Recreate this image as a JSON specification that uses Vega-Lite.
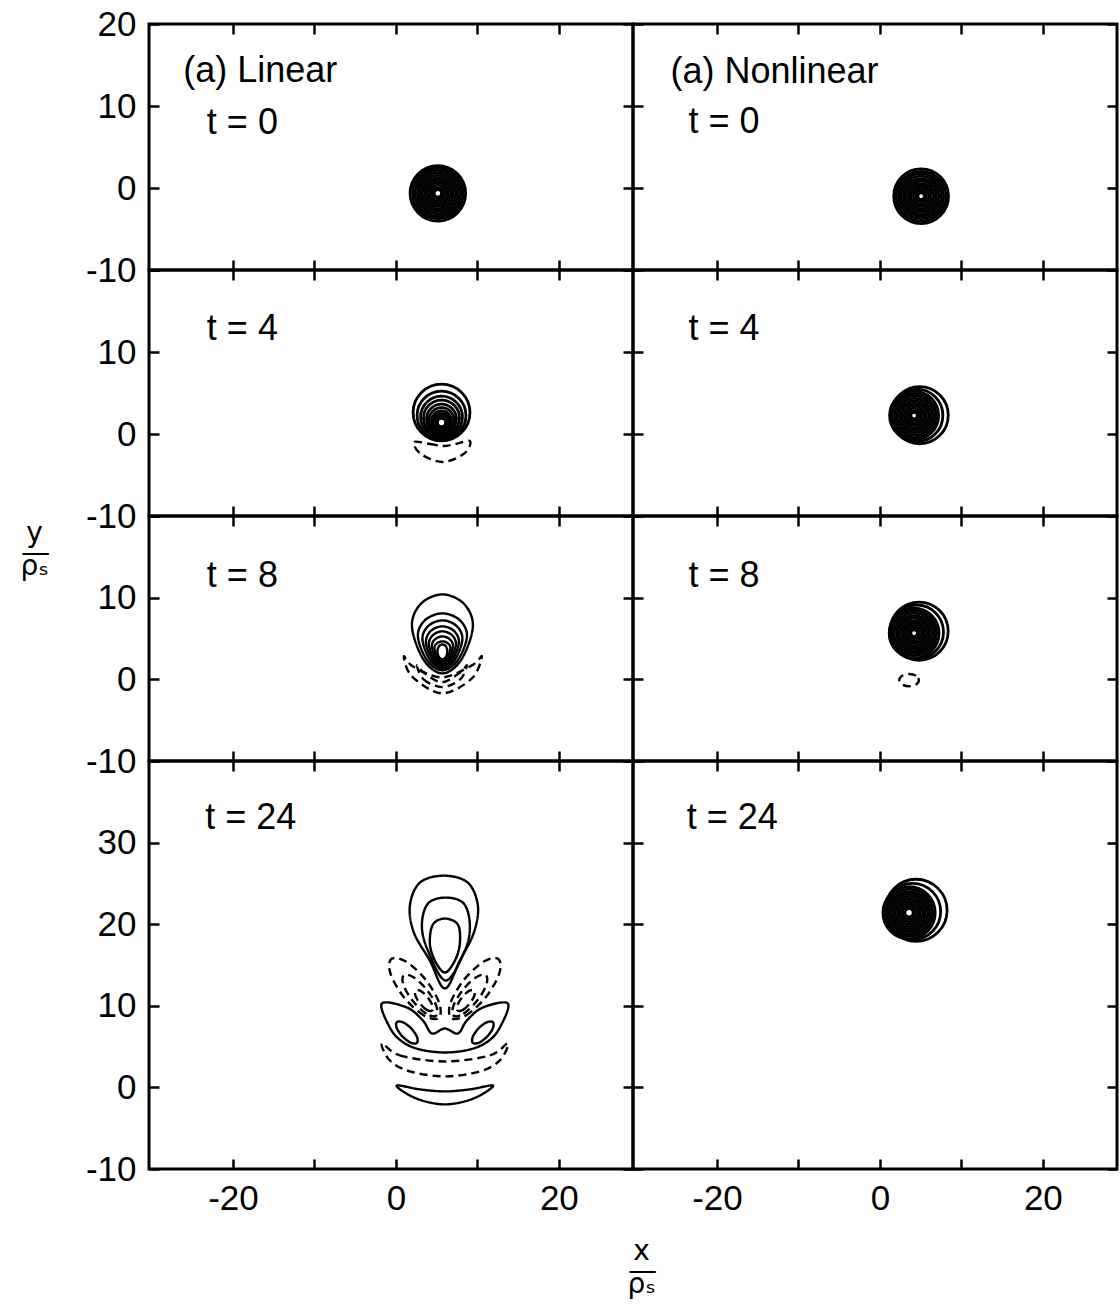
{
"$schema": "https://vega.github.io/schema/vega-lite/v6.json",
"background": "white",
"padding": {"left": 18, "top": 5, "right": 0, "bottom": 0},
"datasets": {
"rings": [
{"p":"L0","x":5.15,"y":-0.65,"r":3.4},{"p":"L0","x":5.15,"y":-0.65,"r":3.1},{"p":"L0","x":5.15,"y":-0.65,"r":2.8},{"p":"L0","x":5.15,"y":-0.65,"r":2.5},{"p":"L0","x":5.15,"y":-0.65,"r":2.2},{"p":"L0","x":5.15,"y":-0.65,"r":1.9},{"p":"L0","x":5.15,"y":-0.65,"r":1.6},{"p":"L0","x":5.15,"y":-0.65,"r":1.3},{"p":"L0","x":5.15,"y":-0.65,"r":1.0},{"p":"L0","x":5.15,"y":-0.65,"r":0.7},{"p":"L0","x":5.15,"y":-0.65,"r":0.45},
{"p":"N0","x":5.06,"y":-1.0,"r":3.35},{"p":"N0","x":5.06,"y":-1.0,"r":3.05},{"p":"N0","x":5.06,"y":-1.0,"r":2.75},{"p":"N0","x":5.06,"y":-1.0,"r":2.45},{"p":"N0","x":5.06,"y":-1.0,"r":2.15},{"p":"N0","x":5.06,"y":-1.0,"r":1.85},{"p":"N0","x":5.06,"y":-1.0,"r":1.55},{"p":"N0","x":5.06,"y":-1.0,"r":1.25},{"p":"N0","x":5.06,"y":-1.0,"r":0.95},{"p":"N0","x":5.06,"y":-1.0,"r":0.65},{"p":"N0","x":5.06,"y":-1.0,"r":0.4},
{"p":"L4","x":5.6,"y":2.62,"r":3.48},{"p":"L4","x":5.6,"y":2.26,"r":2.99},{"p":"L4","x":5.6,"y":2.07,"r":2.56},{"p":"L4","x":5.6,"y":1.95,"r":2.2},{"p":"L4","x":5.6,"y":1.83,"r":1.83},{"p":"L4","x":5.6,"y":1.71,"r":1.52},{"p":"L4","x":5.6,"y":1.59,"r":1.22},{"p":"L4","x":5.6,"y":1.52,"r":0.98},{"p":"L4","x":5.6,"y":1.46,"r":0.73},{"p":"L4","x":5.6,"y":1.4,"r":0.5},
{"p":"N4","x":4.88,"y":2.3,"r":3.5},{"p":"N4","x":4.5,"y":2.27,"r":3.22},{"p":"N4","x":4.2,"y":2.25,"r":3.0},{"p":"N4","x":4.2,"y":2.25,"r":2.7},{"p":"N4","x":4.2,"y":2.25,"r":2.4},{"p":"N4","x":4.2,"y":2.25,"r":2.1},{"p":"N4","x":4.2,"y":2.25,"r":1.8},{"p":"N4","x":4.2,"y":2.25,"r":1.5},{"p":"N4","x":4.2,"y":2.25,"r":1.2},{"p":"N4","x":4.2,"y":2.25,"r":0.9},{"p":"N4","x":4.2,"y":2.25,"r":0.6},{"p":"N4","x":4.2,"y":2.25,"r":0.4},
{"p":"N8","x":4.81,"y":5.9,"r":3.56},{"p":"N8","x":4.5,"y":5.8,"r":3.3},{"p":"N8","x":4.2,"y":5.65,"r":3.05},{"p":"N8","x":4.2,"y":5.65,"r":2.75},{"p":"N8","x":4.2,"y":5.65,"r":2.45},{"p":"N8","x":4.2,"y":5.65,"r":2.15},{"p":"N8","x":4.2,"y":5.65,"r":1.85},{"p":"N8","x":4.2,"y":5.65,"r":1.55},{"p":"N8","x":4.2,"y":5.65,"r":1.25},{"p":"N8","x":4.2,"y":5.65,"r":0.95},{"p":"N8","x":4.2,"y":5.65,"r":0.65},{"p":"N8","x":4.2,"y":5.65,"r":0.4},
{"p":"N24","x":4.44,"y":21.7,"r":3.8},{"p":"N24","x":4.0,"y":21.55,"r":3.45},{"p":"N24","x":3.58,"y":21.4,"r":3.2},{"p":"N24","x":3.58,"y":21.4,"r":2.9},{"p":"N24","x":3.58,"y":21.4,"r":2.6},{"p":"N24","x":3.58,"y":21.4,"r":2.3},{"p":"N24","x":3.58,"y":21.4,"r":2.0},{"p":"N24","x":3.58,"y":21.4,"r":1.7},{"p":"N24","x":3.58,"y":21.4,"r":1.4},{"p":"N24","x":3.58,"y":21.4,"r":1.1},{"p":"N24","x":3.58,"y":21.4,"r":0.8},{"p":"N24","x":3.58,"y":21.4,"r":0.5}
],
"labels": [
{"p":"L0","x":-26.1,"y":14.3,"t":"(a) Linear"},{"p":"L0","x":-23.2,"y":7.9,"t":"t = 0"},
{"p":"N0","x":-25.7,"y":14.2,"t":"(a) Nonlinear"},{"p":"N0","x":-23.5,"y":8.0,"t":"t = 0"},
{"p":"L4","x":-23.2,"y":12.8,"t":"t = 4"},{"p":"N4","x":-23.5,"y":12.8,"t":"t = 4"},
{"p":"L8","x":-23.2,"y":12.6,"t":"t = 8"},{"p":"N8","x":-23.5,"y":12.6,"t":"t = 8"},
{"p":"L24","x":-23.4,"y":33.0,"t":"t = 24"},{"p":"N24","x":-23.7,"y":33.0,"t":"t = 24"}
],
"paths": [
{"p":"L4","c":"d1","o":0,"x":2.21,"y":-0.98,"s":"neg"},{"p":"L4","c":"d1","o":1,"x":4.17,"y":-1.22,"s":"neg"},{"p":"L4","c":"d1","o":2,"x":5.77,"y":-1.46,"s":"neg"},{"p":"L4","c":"d1","o":3,"x":7.36,"y":-1.22,"s":"neg"},{"p":"L4","c":"d1","o":4,"x":9.08,"y":-0.85,"s":"neg"},{"p":"L4","c":"d1","o":5,"x":8.47,"y":-2.32,"s":"neg"},{"p":"L4","c":"d1","o":6,"x":5.77,"y":-3.41,"s":"neg"},{"p":"L4","c":"d1","o":7,"x":3.07,"y":-2.44,"s":"neg"},

{"p":"L8","c":"r1","o":0,"x":5.71,"y":10.40,"s":"pos"},{"p":"L8","c":"r1","o":1,"x":8.35,"y":9.25,"s":"pos"},{"p":"L8","c":"r1","o":2,"x":9.45,"y":6.49,"s":"pos"},{"p":"L8","c":"r1","o":3,"x":8.03,"y":2.42,"s":"pos"},{"p":"L8","c":"r1","o":4,"x":5.71,"y":0.73,"s":"pos"},{"p":"L8","c":"r1","o":5,"x":3.39,"y":2.42,"s":"pos"},{"p":"L8","c":"r1","o":6,"x":1.97,"y":6.49,"s":"pos"},{"p":"L8","c":"r1","o":7,"x":3.07,"y":9.25,"s":"pos"},
{"p":"L8","c":"r2","o":0,"x":5.71,"y":8.08,"s":"pos"},{"p":"L8","c":"r2","o":1,"x":7.84,"y":7.25,"s":"pos"},{"p":"L8","c":"r2","o":2,"x":8.72,"y":5.26,"s":"pos"},{"p":"L8","c":"r2","o":3,"x":7.58,"y":2.32,"s":"pos"},{"p":"L8","c":"r2","o":4,"x":5.71,"y":1.10,"s":"pos"},{"p":"L8","c":"r2","o":5,"x":3.84,"y":2.32,"s":"pos"},{"p":"L8","c":"r2","o":6,"x":2.70,"y":5.26,"s":"pos"},{"p":"L8","c":"r2","o":7,"x":3.58,"y":7.25,"s":"pos"},
{"p":"L8","c":"r3","o":0,"x":5.71,"y":7.22,"s":"pos"},{"p":"L8","c":"r3","o":1,"x":7.44,"y":6.54,"s":"pos"},{"p":"L8","c":"r3","o":2,"x":8.16,"y":4.90,"s":"pos"},{"p":"L8","c":"r3","o":3,"x":7.23,"y":2.39,"s":"pos"},{"p":"L8","c":"r3","o":4,"x":5.71,"y":1.35,"s":"pos"},{"p":"L8","c":"r3","o":5,"x":4.19,"y":2.39,"s":"pos"},{"p":"L8","c":"r3","o":6,"x":3.26,"y":4.90,"s":"pos"},{"p":"L8","c":"r3","o":7,"x":3.98,"y":6.54,"s":"pos"},
{"p":"L8","c":"r4","o":0,"x":5.71,"y":6.49,"s":"pos"},{"p":"L8","c":"r4","o":1,"x":7.14,"y":5.92,"s":"pos"},{"p":"L8","c":"r4","o":2,"x":7.73,"y":4.53,"s":"pos"},{"p":"L8","c":"r4","o":3,"x":6.96,"y":2.45,"s":"pos"},{"p":"L8","c":"r4","o":4,"x":5.71,"y":1.59,"s":"pos"},{"p":"L8","c":"r4","o":5,"x":4.46,"y":2.45,"s":"pos"},{"p":"L8","c":"r4","o":6,"x":3.69,"y":4.53,"s":"pos"},{"p":"L8","c":"r4","o":7,"x":4.28,"y":5.92,"s":"pos"},
{"p":"L8","c":"r5","o":0,"x":5.71,"y":5.88,"s":"pos"},{"p":"L8","c":"r5","o":1,"x":6.88,"y":5.41,"s":"pos"},{"p":"L8","c":"r5","o":2,"x":7.37,"y":4.28,"s":"pos"},{"p":"L8","c":"r5","o":3,"x":6.74,"y":2.55,"s":"pos"},{"p":"L8","c":"r5","o":4,"x":5.71,"y":1.84,"s":"pos"},{"p":"L8","c":"r5","o":5,"x":4.68,"y":2.55,"s":"pos"},{"p":"L8","c":"r5","o":6,"x":4.05,"y":4.28,"s":"pos"},{"p":"L8","c":"r5","o":7,"x":4.54,"y":5.41,"s":"pos"},
{"p":"L8","c":"r6","o":0,"x":5.71,"y":5.26,"s":"pos"},{"p":"L8","c":"r6","o":1,"x":6.62,"y":4.90,"s":"pos"},{"p":"L8","c":"r6","o":2,"x":7.00,"y":4.04,"s":"pos"},{"p":"L8","c":"r6","o":3,"x":6.51,"y":2.57,"s":"pos"},{"p":"L8","c":"r6","o":4,"x":5.71,"y":1.96,"s":"pos"},{"p":"L8","c":"r6","o":5,"x":4.91,"y":2.57,"s":"pos"},{"p":"L8","c":"r6","o":6,"x":4.42,"y":4.04,"s":"pos"},{"p":"L8","c":"r6","o":7,"x":4.80,"y":4.90,"s":"pos"},
{"p":"L8","c":"r7","o":0,"x":5.71,"y":4.65,"s":"pos"},{"p":"L8","c":"r7","o":1,"x":6.40,"y":4.40,"s":"pos"},{"p":"L8","c":"r7","o":2,"x":6.69,"y":3.79,"s":"pos"},{"p":"L8","c":"r7","o":3,"x":6.32,"y":2.67,"s":"pos"},{"p":"L8","c":"r7","o":4,"x":5.71,"y":2.20,"s":"pos"},{"p":"L8","c":"r7","o":5,"x":5.10,"y":2.67,"s":"pos"},{"p":"L8","c":"r7","o":6,"x":4.73,"y":3.79,"s":"pos"},{"p":"L8","c":"r7","o":7,"x":5.02,"y":4.40,"s":"pos"},
{"p":"L8","c":"r8","o":0,"x":5.71,"y":4.28,"s":"pos"},{"p":"L8","c":"r8","o":1,"x":6.14,"y":4.03,"s":"pos"},{"p":"L8","c":"r8","o":2,"x":6.32,"y":3.43,"s":"pos"},{"p":"L8","c":"r8","o":3,"x":6.14,"y":2.74,"s":"pos"},{"p":"L8","c":"r8","o":4,"x":5.71,"y":2.45,"s":"pos"},{"p":"L8","c":"r8","o":5,"x":5.28,"y":2.74,"s":"pos"},{"p":"L8","c":"r8","o":6,"x":5.10,"y":3.43,"s":"pos"},{"p":"L8","c":"r8","o":7,"x":5.28,"y":4.03,"s":"pos"},
{"p":"L8","c":"d1","o":0,"x":0.98,"y":2.82,"s":"neg"},{"p":"L8","c":"d1","o":1,"x":1.96,"y":0.37,"s":"neg"},{"p":"L8","c":"d1","o":2,"x":5.64,"y":-1.71,"s":"neg"},{"p":"L8","c":"d1","o":3,"x":9.33,"y":0.12,"s":"neg"},{"p":"L8","c":"d1","o":4,"x":10.55,"y":2.82,"s":"neg"},{"p":"L8","c":"d1","o":5,"x":9.33,"y":1.71,"s":"neg"},{"p":"L8","c":"d1","o":6,"x":5.64,"y":0.24,"s":"neg"},{"p":"L8","c":"d1","o":7,"x":2.09,"y":1.59,"s":"neg"},
{"p":"L8","c":"d2","o":0,"x":2.6,"y":1.7,"s":"neg"},{"p":"L8","c":"d2","o":1,"x":3.4,"y":0.0,"s":"neg"},{"p":"L8","c":"d2","o":2,"x":5.64,"y":-0.95,"s":"neg"},{"p":"L8","c":"d2","o":3,"x":7.9,"y":0.0,"s":"neg"},{"p":"L8","c":"d2","o":4,"x":8.7,"y":1.7,"s":"neg"},{"p":"L8","c":"d2","o":5,"x":7.9,"y":0.85,"s":"neg"},{"p":"L8","c":"d2","o":6,"x":5.64,"y":-0.35,"s":"neg"},{"p":"L8","c":"d2","o":7,"x":3.4,"y":0.85,"s":"neg"},

{"p":"N8","c":"d1","o":0,"x":4.78,"y":-0.1,"s":"neg"},{"p":"N8","c":"d1","o":1,"x":4.43,"y":0.43,"s":"neg"},{"p":"N8","c":"d1","o":2,"x":3.58,"y":0.65,"s":"neg"},{"p":"N8","c":"d1","o":3,"x":2.73,"y":0.43,"s":"neg"},{"p":"N8","c":"d1","o":4,"x":2.38,"y":-0.1,"s":"neg"},{"p":"N8","c":"d1","o":5,"x":2.73,"y":-0.63,"s":"neg"},{"p":"N8","c":"d1","o":6,"x":3.58,"y":-0.85,"s":"neg"},{"p":"N8","c":"d1","o":7,"x":4.43,"y":-0.63,"s":"neg"},

{"p":"L24","c":"t1","o":0,"x":5.89,"y":25.95,"s":"pos"},{"p":"L24","c":"t1","o":1,"x":8.83,"y":25.09,"s":"pos"},{"p":"L24","c":"t1","o":2,"x":10.06,"y":22.28,"s":"pos"},{"p":"L24","c":"t1","o":3,"x":9.57,"y":18.97,"s":"pos"},{"p":"L24","c":"t1","o":4,"x":7.85,"y":15.54,"s":"pos"},{"p":"L24","c":"t1","o":5,"x":6.01,"y":12.12,"s":"pos"},{"p":"L24","c":"t1","o":6,"x":4.17,"y":15.54,"s":"pos"},{"p":"L24","c":"t1","o":7,"x":2.21,"y":18.97,"s":"pos"},{"p":"L24","c":"t1","o":8,"x":1.72,"y":22.28,"s":"pos"},{"p":"L24","c":"t1","o":9,"x":2.94,"y":25.09,"s":"pos"},
{"p":"L24","c":"t2","o":0,"x":6.13,"y":23.26,"s":"pos"},{"p":"L24","c":"t2","o":1,"x":8.34,"y":22.52,"s":"pos"},{"p":"L24","c":"t2","o":2,"x":9.08,"y":19.83,"s":"pos"},{"p":"L24","c":"t2","o":3,"x":8.47,"y":16.77,"s":"pos"},{"p":"L24","c":"t2","o":4,"x":6.13,"y":13.10,"s":"pos"},{"p":"L24","c":"t2","o":5,"x":3.93,"y":16.77,"s":"pos"},{"p":"L24","c":"t2","o":6,"x":3.19,"y":19.83,"s":"pos"},{"p":"L24","c":"t2","o":7,"x":3.93,"y":22.52,"s":"pos"},
{"p":"L24","c":"t3","o":0,"x":6.01,"y":20.69,"s":"pos"},{"p":"L24","c":"t3","o":1,"x":7.61,"y":19.95,"s":"pos"},{"p":"L24","c":"t3","o":2,"x":7.85,"y":17.63,"s":"pos"},{"p":"L24","c":"t3","o":3,"x":7.24,"y":15.54,"s":"pos"},{"p":"L24","c":"t3","o":4,"x":6.01,"y":14.08,"s":"pos"},{"p":"L24","c":"t3","o":5,"x":4.79,"y":15.54,"s":"pos"},{"p":"L24","c":"t3","o":6,"x":4.17,"y":17.63,"s":"pos"},{"p":"L24","c":"t3","o":7,"x":4.54,"y":19.95,"s":"pos"},
{"p":"L24","c":"lo1","o":0,"x":5.23,"y":8.49,"s":"neg"},{"p":"L24","c":"lo1","o":1,"x":3.44,"y":8.81,"s":"neg"},{"p":"L24","c":"lo1","o":2,"x":0.99,"y":11.05,"s":"neg"},{"p":"L24","c":"lo1","o":3,"x":-0.66,"y":13.93,"s":"neg"},{"p":"L24","c":"lo1","o":4,"x":-0.56,"y":15.74,"s":"neg"},{"p":"L24","c":"lo1","o":5,"x":1.23,"y":15.42,"s":"neg"},{"p":"L24","c":"lo1","o":6,"x":3.67,"y":13.18,"s":"neg"},{"p":"L24","c":"lo1","o":7,"x":5.33,"y":10.31,"s":"neg"},
{"p":"L24","c":"lo2","o":0,"x":4.92,"y":8.78,"s":"neg"},{"p":"L24","c":"lo2","o":1,"x":3.74,"y":9.02,"s":"neg"},{"p":"L24","c":"lo2","o":2,"x":2.09,"y":10.58,"s":"neg"},{"p":"L24","c":"lo2","o":3,"x":0.94,"y":12.52,"s":"neg"},{"p":"L24","c":"lo2","o":4,"x":0.97,"y":13.75,"s":"neg"},{"p":"L24","c":"lo2","o":5,"x":2.16,"y":13.5,"s":"neg"},{"p":"L24","c":"lo2","o":6,"x":3.80,"y":11.95,"s":"neg"},{"p":"L24","c":"lo2","o":7,"x":4.96,"y":10.0,"s":"neg"},
{"p":"L24","c":"lo3","o":0,"x":4.43,"y":9.41,"s":"neg"},{"p":"L24","c":"lo3","o":1,"x":3.79,"y":9.50,"s":"neg"},{"p":"L24","c":"lo3","o":2,"x":2.96,"y":10.27,"s":"neg"},{"p":"L24","c":"lo3","o":3,"x":2.39,"y":11.26,"s":"neg"},{"p":"L24","c":"lo3","o":4,"x":2.44,"y":11.89,"s":"neg"},{"p":"L24","c":"lo3","o":5,"x":3.08,"y":11.80,"s":"neg"},{"p":"L24","c":"lo3","o":6,"x":3.91,"y":11.03,"s":"neg"},{"p":"L24","c":"lo3","o":7,"x":4.48,"y":10.04,"s":"neg"},
{"p":"L24","c":"ro1","o":0,"x":6.79,"y":8.49,"s":"neg"},{"p":"L24","c":"ro1","o":1,"x":8.58,"y":8.81,"s":"neg"},{"p":"L24","c":"ro1","o":2,"x":11.03,"y":11.05,"s":"neg"},{"p":"L24","c":"ro1","o":3,"x":12.68,"y":13.93,"s":"neg"},{"p":"L24","c":"ro1","o":4,"x":12.58,"y":15.74,"s":"neg"},{"p":"L24","c":"ro1","o":5,"x":10.79,"y":15.42,"s":"neg"},{"p":"L24","c":"ro1","o":6,"x":8.35,"y":13.18,"s":"neg"},{"p":"L24","c":"ro1","o":7,"x":6.69,"y":10.31,"s":"neg"},
{"p":"L24","c":"ro2","o":0,"x":7.10,"y":8.78,"s":"neg"},{"p":"L24","c":"ro2","o":1,"x":8.28,"y":9.02,"s":"neg"},{"p":"L24","c":"ro2","o":2,"x":9.93,"y":10.58,"s":"neg"},{"p":"L24","c":"ro2","o":3,"x":11.08,"y":12.52,"s":"neg"},{"p":"L24","c":"ro2","o":4,"x":11.05,"y":13.75,"s":"neg"},{"p":"L24","c":"ro2","o":5,"x":9.86,"y":13.5,"s":"neg"},{"p":"L24","c":"ro2","o":6,"x":8.22,"y":11.95,"s":"neg"},{"p":"L24","c":"ro2","o":7,"x":7.06,"y":10.0,"s":"neg"},
{"p":"L24","c":"ro3","o":0,"x":7.59,"y":9.41,"s":"neg"},{"p":"L24","c":"ro3","o":1,"x":8.23,"y":9.50,"s":"neg"},{"p":"L24","c":"ro3","o":2,"x":9.06,"y":10.27,"s":"neg"},{"p":"L24","c":"ro3","o":3,"x":9.63,"y":11.26,"s":"neg"},{"p":"L24","c":"ro3","o":4,"x":9.58,"y":11.89,"s":"neg"},{"p":"L24","c":"ro3","o":5,"x":8.94,"y":11.80,"s":"neg"},{"p":"L24","c":"ro3","o":6,"x":8.11,"y":11.03,"s":"neg"},{"p":"L24","c":"ro3","o":7,"x":7.54,"y":10.04,"s":"neg"},
{"p":"L24","c":"w","o":0,"x":-1.72,"y":10.28,"s":"pos"},{"p":"L24","c":"w","o":1,"x":1.35,"y":9.79,"s":"pos"},{"p":"L24","c":"w","o":2,"x":3.31,"y":8.20,"s":"pos"},{"p":"L24","c":"w","o":3,"x":4.42,"y":6.61,"s":"pos"},{"p":"L24","c":"w","o":4,"x":6.01,"y":7.22,"s":"pos"},{"p":"L24","c":"w","o":5,"x":7.61,"y":6.61,"s":"pos"},{"p":"L24","c":"w","o":6,"x":8.71,"y":8.20,"s":"pos"},{"p":"L24","c":"w","o":7,"x":10.67,"y":9.79,"s":"pos"},{"p":"L24","c":"w","o":8,"x":13.74,"y":10.28,"s":"pos"},{"p":"L24","c":"w","o":9,"x":12.76,"y":7.34,"s":"pos"},{"p":"L24","c":"w","o":10,"x":11.29,"y":5.63,"s":"pos"},{"p":"L24","c":"w","o":11,"x":9.08,"y":4.65,"s":"pos"},{"p":"L24","c":"w","o":12,"x":6.01,"y":4.28,"s":"pos"},{"p":"L24","c":"w","o":13,"x":2.94,"y":4.65,"s":"pos"},{"p":"L24","c":"w","o":14,"x":0.74,"y":5.63,"s":"pos"},{"p":"L24","c":"w","o":15,"x":-0.74,"y":7.34,"s":"pos"},
{"p":"L24","c":"wl","o":0,"x":2.58,"y":5.46,"s":"pos"},{"p":"L24","c":"wl","o":1,"x":1.84,"y":5.47,"s":"pos"},{"p":"L24","c":"wl","o":2,"x":0.82,"y":6.23,"s":"pos"},{"p":"L24","c":"wl","o":3,"x":0.11,"y":7.27,"s":"pos"},{"p":"L24","c":"wl","o":4,"x":0.12,"y":8.00,"s":"pos"},{"p":"L24","c":"wl","o":5,"x":0.86,"y":7.98,"s":"pos"},{"p":"L24","c":"wl","o":6,"x":1.88,"y":7.23,"s":"pos"},{"p":"L24","c":"wl","o":7,"x":2.59,"y":6.18,"s":"pos"},
{"p":"L24","c":"wr","o":0,"x":9.44,"y":5.46,"s":"pos"},{"p":"L24","c":"wr","o":1,"x":10.18,"y":5.47,"s":"pos"},{"p":"L24","c":"wr","o":2,"x":11.20,"y":6.23,"s":"pos"},{"p":"L24","c":"wr","o":3,"x":11.91,"y":7.27,"s":"pos"},{"p":"L24","c":"wr","o":4,"x":11.90,"y":8.00,"s":"pos"},{"p":"L24","c":"wr","o":5,"x":11.16,"y":7.98,"s":"pos"},{"p":"L24","c":"wr","o":6,"x":10.14,"y":7.23,"s":"pos"},{"p":"L24","c":"wr","o":7,"x":9.43,"y":6.18,"s":"pos"},
{"p":"L24","c":"dc","o":0,"x":-1.72,"y":5.39,"s":"neg"},{"p":"L24","c":"dc","o":1,"x":0.49,"y":3.92,"s":"neg"},{"p":"L24","c":"dc","o":2,"x":6.01,"y":3.18,"s":"neg"},{"p":"L24","c":"dc","o":3,"x":11.53,"y":3.92,"s":"neg"},{"p":"L24","c":"dc","o":4,"x":13.74,"y":5.39,"s":"neg"},{"p":"L24","c":"dc","o":5,"x":12.76,"y":3.30,"s":"neg"},{"p":"L24","c":"dc","o":6,"x":10.31,"y":1.96,"s":"neg"},{"p":"L24","c":"dc","o":7,"x":6.01,"y":1.35,"s":"neg"},{"p":"L24","c":"dc","o":8,"x":1.72,"y":1.96,"s":"neg"},{"p":"L24","c":"dc","o":9,"x":-0.74,"y":3.30,"s":"neg"},
{"p":"L24","c":"bc","o":0,"x":0.12,"y":0.24,"s":"pos"},{"p":"L24","c":"bc","o":1,"x":2.94,"y":-0.24,"s":"pos"},{"p":"L24","c":"bc","o":2,"x":6.01,"y":-0.49,"s":"pos"},{"p":"L24","c":"bc","o":3,"x":9.08,"y":-0.24,"s":"pos"},{"p":"L24","c":"bc","o":4,"x":11.90,"y":0.24,"s":"pos"},{"p":"L24","c":"bc","o":5,"x":10.55,"y":-0.86,"s":"pos"},{"p":"L24","c":"bc","o":6,"x":8.47,"y":-1.71,"s":"pos"},{"p":"L24","c":"bc","o":7,"x":6.01,"y":-2.08,"s":"pos"},{"p":"L24","c":"bc","o":8,"x":3.56,"y":-1.71,"s":"pos"},{"p":"L24","c":"bc","o":9,"x":1.47,"y":-0.86,"s":"pos"}
]
},
"columns": 2,
"spacing": 0,
"bounds": "flush",
"concat": [
{"width": 484, "height": 246, "layer": [
 {"data": {"name": "paths"}, "transform": [{"filter": "datum.p == 'L0'"}], "mark": {"type": "line", "interpolate": "cardinal-closed", "color": "black", "strokeWidth": 2.4},
  "encoding": {"x": {"field": "x", "type": "quantitative", "scale": {"domain": [-30.3, 29.1], "nice": false, "zero": false}, "axis": {"orient": "bottom", "values": [-20,-10,0,10,20], "labels": false, "title": null}},
   "y": {"field": "y", "type": "quantitative", "scale": {"domain": [-10, 20], "nice": false, "zero": false}, "axis": {"orient": "left", "values": [-10,0,10,20], "labelExpr": "''+datum.value", "title": null}},
   "detail": {"field": "c", "type": "nominal"}, "order": {"field": "o", "type": "quantitative"},
   "strokeDash": {"field": "s", "type": "nominal", "scale": {"domain": ["pos","neg"], "range": [[1,0],[8,5]]}, "legend": null}}},
 {"data": {"name": "rings"}, "transform": [{"filter": "datum.p == 'L0'"}], "mark": {"type": "point", "shape": "circle", "filled": false, "color": "black", "opacity": 1, "strokeWidth": 2.8},
  "encoding": {"x": {"field": "x", "type": "quantitative", "scale": {"domain": [-30.3, 29.1], "nice": false, "zero": false}, "axis": {"orient": "top", "values": [-20,-10,0,10,20], "labels": false, "title": null}},
   "y": {"field": "y", "type": "quantitative", "scale": {"domain": [-10, 20], "nice": false, "zero": false}, "axis": {"orient": "right", "values": [-10,0,10,20], "labels": false, "title": null}},
   "size": {"field": "r", "type": "quantitative", "scale": {"type": "pow", "exponent": 2, "domain": [0, 10], "range": [0, 26700]}, "legend": null}}},
 {"data": {"name": "labels"}, "transform": [{"filter": "datum.p == 'L0'"}], "mark": {"type": "text", "align": "left", "baseline": "middle", "fontSize": 36, "font": "Liberation Sans", "color": "black"},
  "encoding": {"x": {"field": "x", "type": "quantitative", "scale": {"domain": [-30.3, 29.1], "nice": false, "zero": false}, "axis": null},
   "y": {"field": "y", "type": "quantitative", "scale": {"domain": [-10, 20], "nice": false, "zero": false}, "axis": null}, "text": {"field": "t", "type": "nominal"}}}
], "resolve": {"axis": {"x": "independent", "y": "independent"}}},

{"width": 484, "height": 246, "layer": [
 {"data": {"name": "paths"}, "transform": [{"filter": "datum.p == 'N0'"}], "mark": {"type": "line", "interpolate": "cardinal-closed", "color": "black", "strokeWidth": 2.4},
  "encoding": {"x": {"field": "x", "type": "quantitative", "scale": {"domain": [-30.3, 29.1], "nice": false, "zero": false}, "axis": {"orient": "bottom", "values": [-20,-10,0,10,20], "labels": false, "title": null}},
   "y": {"field": "y", "type": "quantitative", "scale": {"domain": [-10, 20], "nice": false, "zero": false}, "axis": {"orient": "left", "values": [-10,0,10,20], "labels": false, "title": null}},
   "detail": {"field": "c", "type": "nominal"}, "order": {"field": "o", "type": "quantitative"},
   "strokeDash": {"field": "s", "type": "nominal", "scale": {"domain": ["pos","neg"], "range": [[1,0],[8,5]]}, "legend": null}}},
 {"data": {"name": "rings"}, "transform": [{"filter": "datum.p == 'N0'"}], "mark": {"type": "point", "shape": "circle", "filled": false, "color": "black", "opacity": 1, "strokeWidth": 2.8},
  "encoding": {"x": {"field": "x", "type": "quantitative", "scale": {"domain": [-30.3, 29.1], "nice": false, "zero": false}, "axis": {"orient": "top", "values": [-20,-10,0,10,20], "labels": false, "title": null}},
   "y": {"field": "y", "type": "quantitative", "scale": {"domain": [-10, 20], "nice": false, "zero": false}, "axis": {"orient": "right", "values": [-10,0,10,20], "labels": false, "title": null}},
   "size": {"field": "r", "type": "quantitative", "scale": {"type": "pow", "exponent": 2, "domain": [0, 10], "range": [0, 26700]}, "legend": null}}},
 {"data": {"name": "labels"}, "transform": [{"filter": "datum.p == 'N0'"}], "mark": {"type": "text", "align": "left", "baseline": "middle", "fontSize": 36, "font": "Liberation Sans", "color": "black"},
  "encoding": {"x": {"field": "x", "type": "quantitative", "scale": {"domain": [-30.3, 29.1], "nice": false, "zero": false}, "axis": null},
   "y": {"field": "y", "type": "quantitative", "scale": {"domain": [-10, 20], "nice": false, "zero": false}, "axis": null}, "text": {"field": "t", "type": "nominal"}}}
], "resolve": {"axis": {"x": "independent", "y": "independent"}}},

{"width": 484, "height": 246, "layer": [
 {"data": {"name": "paths"}, "transform": [{"filter": "datum.p == 'L4'"}], "mark": {"type": "line", "interpolate": "cardinal-closed", "color": "black", "strokeWidth": 2.4},
  "encoding": {"x": {"field": "x", "type": "quantitative", "scale": {"domain": [-30.3, 29.1], "nice": false, "zero": false}, "axis": {"orient": "bottom", "values": [-20,-10,0,10,20], "labels": false, "title": null}},
   "y": {"field": "y", "type": "quantitative", "scale": {"domain": [-10, 20], "nice": false, "zero": false}, "axis": {"orient": "left", "values": [-10,0,10,20], "labelExpr": "datum.value == 20 ? '' : ''+datum.value", "title": null}},
   "detail": {"field": "c", "type": "nominal"}, "order": {"field": "o", "type": "quantitative"},
   "strokeDash": {"field": "s", "type": "nominal", "scale": {"domain": ["pos","neg"], "range": [[1,0],[8,5]]}, "legend": null}}},
 {"data": {"name": "rings"}, "transform": [{"filter": "datum.p == 'L4'"}], "mark": {"type": "point", "shape": "circle", "filled": false, "color": "black", "opacity": 1, "strokeWidth": 2.8},
  "encoding": {"x": {"field": "x", "type": "quantitative", "scale": {"domain": [-30.3, 29.1], "nice": false, "zero": false}, "axis": {"orient": "top", "values": [-20,-10,0,10,20], "labels": false, "title": null}},
   "y": {"field": "y", "type": "quantitative", "scale": {"domain": [-10, 20], "nice": false, "zero": false}, "axis": {"orient": "right", "values": [-10,0,10,20], "labels": false, "title": null}},
   "size": {"field": "r", "type": "quantitative", "scale": {"type": "pow", "exponent": 2, "domain": [0, 10], "range": [0, 26700]}, "legend": null}}},
 {"data": {"name": "labels"}, "transform": [{"filter": "datum.p == 'L4'"}], "mark": {"type": "text", "align": "left", "baseline": "middle", "fontSize": 36, "font": "Liberation Sans", "color": "black"},
  "encoding": {"x": {"field": "x", "type": "quantitative", "scale": {"domain": [-30.3, 29.1], "nice": false, "zero": false}, "axis": null},
   "y": {"field": "y", "type": "quantitative", "scale": {"domain": [-10, 20], "nice": false, "zero": false}, "axis": null}, "text": {"field": "t", "type": "nominal"}}}
], "resolve": {"axis": {"x": "independent", "y": "independent"}}},

{"width": 484, "height": 246, "layer": [
 {"data": {"name": "paths"}, "transform": [{"filter": "datum.p == 'N4'"}], "mark": {"type": "line", "interpolate": "cardinal-closed", "color": "black", "strokeWidth": 2.4},
  "encoding": {"x": {"field": "x", "type": "quantitative", "scale": {"domain": [-30.3, 29.1], "nice": false, "zero": false}, "axis": {"orient": "bottom", "values": [-20,-10,0,10,20], "labels": false, "title": null}},
   "y": {"field": "y", "type": "quantitative", "scale": {"domain": [-10, 20], "nice": false, "zero": false}, "axis": {"orient": "left", "values": [-10,0,10,20], "labels": false, "title": null}},
   "detail": {"field": "c", "type": "nominal"}, "order": {"field": "o", "type": "quantitative"},
   "strokeDash": {"field": "s", "type": "nominal", "scale": {"domain": ["pos","neg"], "range": [[1,0],[8,5]]}, "legend": null}}},
 {"data": {"name": "rings"}, "transform": [{"filter": "datum.p == 'N4'"}], "mark": {"type": "point", "shape": "circle", "filled": false, "color": "black", "opacity": 1, "strokeWidth": 2.8},
  "encoding": {"x": {"field": "x", "type": "quantitative", "scale": {"domain": [-30.3, 29.1], "nice": false, "zero": false}, "axis": {"orient": "top", "values": [-20,-10,0,10,20], "labels": false, "title": null}},
   "y": {"field": "y", "type": "quantitative", "scale": {"domain": [-10, 20], "nice": false, "zero": false}, "axis": {"orient": "right", "values": [-10,0,10,20], "labels": false, "title": null}},
   "size": {"field": "r", "type": "quantitative", "scale": {"type": "pow", "exponent": 2, "domain": [0, 10], "range": [0, 26700]}, "legend": null}}},
 {"data": {"name": "labels"}, "transform": [{"filter": "datum.p == 'N4'"}], "mark": {"type": "text", "align": "left", "baseline": "middle", "fontSize": 36, "font": "Liberation Sans", "color": "black"},
  "encoding": {"x": {"field": "x", "type": "quantitative", "scale": {"domain": [-30.3, 29.1], "nice": false, "zero": false}, "axis": null},
   "y": {"field": "y", "type": "quantitative", "scale": {"domain": [-10, 20], "nice": false, "zero": false}, "axis": null}, "text": {"field": "t", "type": "nominal"}}}
], "resolve": {"axis": {"x": "independent", "y": "independent"}}},

{"width": 484, "height": 245, "layer": [
 {"data": {"name": "paths"}, "transform": [{"filter": "datum.p == 'L8'"}], "mark": {"type": "line", "interpolate": "cardinal-closed", "color": "black", "strokeWidth": 2.4},
  "encoding": {"x": {"field": "x", "type": "quantitative", "scale": {"domain": [-30.3, 29.1], "nice": false, "zero": false}, "axis": {"orient": "bottom", "values": [-20,-10,0,10,20], "labels": false, "title": null}},
   "y": {"field": "y", "type": "quantitative", "scale": {"domain": [-10, 20], "nice": false, "zero": false}, "axis": {"orient": "left", "values": [-10,0,10,20], "labelExpr": "datum.value == 20 ? '' : ''+datum.value", "title": ["y", "ρ\u0305ₛ\u0305"], "titleFont": "DejaVu Sans", "titleAngle": 0, "titleAlign": "center", "titleBaseline": "top", "titleX": -115, "titleY": 3, "titleFontSize": 28, "titleLineHeight": 33}},
   "detail": {"field": "c", "type": "nominal"}, "order": {"field": "o", "type": "quantitative"},
   "strokeDash": {"field": "s", "type": "nominal", "scale": {"domain": ["pos","neg"], "range": [[1,0],[8,5]]}, "legend": null}}},
 {"data": {"name": "rings"}, "transform": [{"filter": "datum.p == 'L8'"}], "mark": {"type": "point", "shape": "circle", "filled": false, "color": "black", "opacity": 1, "strokeWidth": 2.8},
  "encoding": {"x": {"field": "x", "type": "quantitative", "scale": {"domain": [-30.3, 29.1], "nice": false, "zero": false}, "axis": {"orient": "top", "values": [-20,-10,0,10,20], "labels": false, "title": null}},
   "y": {"field": "y", "type": "quantitative", "scale": {"domain": [-10, 20], "nice": false, "zero": false}, "axis": {"orient": "right", "values": [-10,0,10,20], "labels": false, "title": null}},
   "size": {"field": "r", "type": "quantitative", "scale": {"type": "pow", "exponent": 2, "domain": [0, 10], "range": [0, 26700]}, "legend": null}}},
 {"data": {"name": "labels"}, "transform": [{"filter": "datum.p == 'L8'"}], "mark": {"type": "text", "align": "left", "baseline": "middle", "fontSize": 36, "font": "Liberation Sans", "color": "black"},
  "encoding": {"x": {"field": "x", "type": "quantitative", "scale": {"domain": [-30.3, 29.1], "nice": false, "zero": false}, "axis": null},
   "y": {"field": "y", "type": "quantitative", "scale": {"domain": [-10, 20], "nice": false, "zero": false}, "axis": null}, "text": {"field": "t", "type": "nominal"}}}
], "resolve": {"axis": {"x": "independent", "y": "independent"}}},

{"width": 484, "height": 245, "layer": [
 {"data": {"name": "paths"}, "transform": [{"filter": "datum.p == 'N8'"}], "mark": {"type": "line", "interpolate": "cardinal-closed", "color": "black", "strokeWidth": 2.4},
  "encoding": {"x": {"field": "x", "type": "quantitative", "scale": {"domain": [-30.3, 29.1], "nice": false, "zero": false}, "axis": {"orient": "bottom", "values": [-20,-10,0,10,20], "labels": false, "title": null}},
   "y": {"field": "y", "type": "quantitative", "scale": {"domain": [-10, 20], "nice": false, "zero": false}, "axis": {"orient": "left", "values": [-10,0,10,20], "labels": false, "title": null}},
   "detail": {"field": "c", "type": "nominal"}, "order": {"field": "o", "type": "quantitative"},
   "strokeDash": {"field": "s", "type": "nominal", "scale": {"domain": ["pos","neg"], "range": [[1,0],[8,5]]}, "legend": null}}},
 {"data": {"name": "rings"}, "transform": [{"filter": "datum.p == 'N8'"}], "mark": {"type": "point", "shape": "circle", "filled": false, "color": "black", "opacity": 1, "strokeWidth": 2.8},
  "encoding": {"x": {"field": "x", "type": "quantitative", "scale": {"domain": [-30.3, 29.1], "nice": false, "zero": false}, "axis": {"orient": "top", "values": [-20,-10,0,10,20], "labels": false, "title": null}},
   "y": {"field": "y", "type": "quantitative", "scale": {"domain": [-10, 20], "nice": false, "zero": false}, "axis": {"orient": "right", "values": [-10,0,10,20], "labels": false, "title": null}},
   "size": {"field": "r", "type": "quantitative", "scale": {"type": "pow", "exponent": 2, "domain": [0, 10], "range": [0, 26700]}, "legend": null}}},
 {"data": {"name": "labels"}, "transform": [{"filter": "datum.p == 'N8'"}], "mark": {"type": "text", "align": "left", "baseline": "middle", "fontSize": 36, "font": "Liberation Sans", "color": "black"},
  "encoding": {"x": {"field": "x", "type": "quantitative", "scale": {"domain": [-30.3, 29.1], "nice": false, "zero": false}, "axis": null},
   "y": {"field": "y", "type": "quantitative", "scale": {"domain": [-10, 20], "nice": false, "zero": false}, "axis": null}, "text": {"field": "t", "type": "nominal"}}}
], "resolve": {"axis": {"x": "independent", "y": "independent"}}},

{"width": 484, "height": 408, "layer": [
 {"data": {"name": "paths"}, "transform": [{"filter": "datum.p == 'L24'"}], "mark": {"type": "line", "interpolate": "cardinal-closed", "color": "black", "strokeWidth": 2.4},
  "encoding": {"x": {"field": "x", "type": "quantitative", "scale": {"domain": [-30.3, 29.1], "nice": false, "zero": false}, "axis": {"orient": "bottom", "values": [-20,-10,0,10,20], "labelExpr": "datum.value % 20 == 0 ? ''+datum.value : ''", "title": ["x", "ρ\u0305ₛ\u0305"], "titleFont": "DejaVu Sans", "titleAngle": 0, "titleAlign": "center", "titleBaseline": "top", "titleX": 492, "titleY": 68, "titleFontSize": 28, "titleLineHeight": 33}},
   "y": {"field": "y", "type": "quantitative", "scale": {"domain": [-10, 40], "nice": false, "zero": false}, "axis": {"orient": "left", "values": [-10,0,10,20,30,40], "labelExpr": "datum.value == 40 ? '' : ''+datum.value", "title": null}},
   "detail": {"field": "c", "type": "nominal"}, "order": {"field": "o", "type": "quantitative"},
   "strokeDash": {"field": "s", "type": "nominal", "scale": {"domain": ["pos","neg"], "range": [[1,0],[8,5]]}, "legend": null}}},
 {"data": {"name": "rings"}, "transform": [{"filter": "datum.p == 'L24'"}], "mark": {"type": "point", "shape": "circle", "filled": false, "color": "black", "opacity": 1, "strokeWidth": 2.8},
  "encoding": {"x": {"field": "x", "type": "quantitative", "scale": {"domain": [-30.3, 29.1], "nice": false, "zero": false}, "axis": {"orient": "top", "values": [-20,-10,0,10,20], "labels": false, "title": null}},
   "y": {"field": "y", "type": "quantitative", "scale": {"domain": [-10, 40], "nice": false, "zero": false}, "axis": {"orient": "right", "values": [-10,0,10,20,30,40], "labels": false, "title": null}},
   "size": {"field": "r", "type": "quantitative", "scale": {"type": "pow", "exponent": 2, "domain": [0, 10], "range": [0, 26700]}, "legend": null}}},
 {"data": {"name": "labels"}, "transform": [{"filter": "datum.p == 'L24'"}], "mark": {"type": "text", "align": "left", "baseline": "middle", "fontSize": 36, "font": "Liberation Sans", "color": "black"},
  "encoding": {"x": {"field": "x", "type": "quantitative", "scale": {"domain": [-30.3, 29.1], "nice": false, "zero": false}, "axis": null},
   "y": {"field": "y", "type": "quantitative", "scale": {"domain": [-10, 40], "nice": false, "zero": false}, "axis": null}, "text": {"field": "t", "type": "nominal"}}}
], "resolve": {"axis": {"x": "independent", "y": "independent"}}},

{"width": 484, "height": 408, "layer": [
 {"data": {"name": "paths"}, "transform": [{"filter": "datum.p == 'N24'"}], "mark": {"type": "line", "interpolate": "cardinal-closed", "color": "black", "strokeWidth": 2.4},
  "encoding": {"x": {"field": "x", "type": "quantitative", "scale": {"domain": [-30.3, 29.1], "nice": false, "zero": false}, "axis": {"orient": "bottom", "values": [-20,-10,0,10,20], "labelExpr": "datum.value % 20 == 0 ? ''+datum.value : ''", "title": null}},
   "y": {"field": "y", "type": "quantitative", "scale": {"domain": [-10, 40], "nice": false, "zero": false}, "axis": {"orient": "left", "values": [-10,0,10,20,30,40], "labels": false, "title": null}},
   "detail": {"field": "c", "type": "nominal"}, "order": {"field": "o", "type": "quantitative"},
   "strokeDash": {"field": "s", "type": "nominal", "scale": {"domain": ["pos","neg"], "range": [[1,0],[8,5]]}, "legend": null}}},
 {"data": {"name": "rings"}, "transform": [{"filter": "datum.p == 'N24'"}], "mark": {"type": "point", "shape": "circle", "filled": false, "color": "black", "opacity": 1, "strokeWidth": 2.8},
  "encoding": {"x": {"field": "x", "type": "quantitative", "scale": {"domain": [-30.3, 29.1], "nice": false, "zero": false}, "axis": {"orient": "top", "values": [-20,-10,0,10,20], "labels": false, "title": null}},
   "y": {"field": "y", "type": "quantitative", "scale": {"domain": [-10, 40], "nice": false, "zero": false}, "axis": {"orient": "right", "values": [-10,0,10,20,30,40], "labels": false, "title": null}},
   "size": {"field": "r", "type": "quantitative", "scale": {"type": "pow", "exponent": 2, "domain": [0, 10], "range": [0, 26700]}, "legend": null}}},
 {"data": {"name": "labels"}, "transform": [{"filter": "datum.p == 'N24'"}], "mark": {"type": "text", "align": "left", "baseline": "middle", "fontSize": 36, "font": "Liberation Sans", "color": "black"},
  "encoding": {"x": {"field": "x", "type": "quantitative", "scale": {"domain": [-30.3, 29.1], "nice": false, "zero": false}, "axis": null},
   "y": {"field": "y", "type": "quantitative", "scale": {"domain": [-10, 40], "nice": false, "zero": false}, "axis": null}, "text": {"field": "t", "type": "nominal"}}}
], "resolve": {"axis": {"x": "independent", "y": "independent"}}}
],
"config": {
 "font": "Liberation Sans",
 "view": {"stroke": "black", "strokeWidth": 3},
 "axis": {"domain": false, "grid": false, "ticks": true, "tickSize": -10, "tickWidth": 2.5, "tickColor": "black", "labelFont": "Liberation Sans", "labelFontSize": 35, "labelColor": "black", "labelFlush": false, "labelOverlap": false, "titleFont": "Liberation Sans", "titleFontWeight": "normal", "titleColor": "black"},
 "axisX": {"labelPadding": 22},
 "axisY": {"labelPadding": 23}
}
}
